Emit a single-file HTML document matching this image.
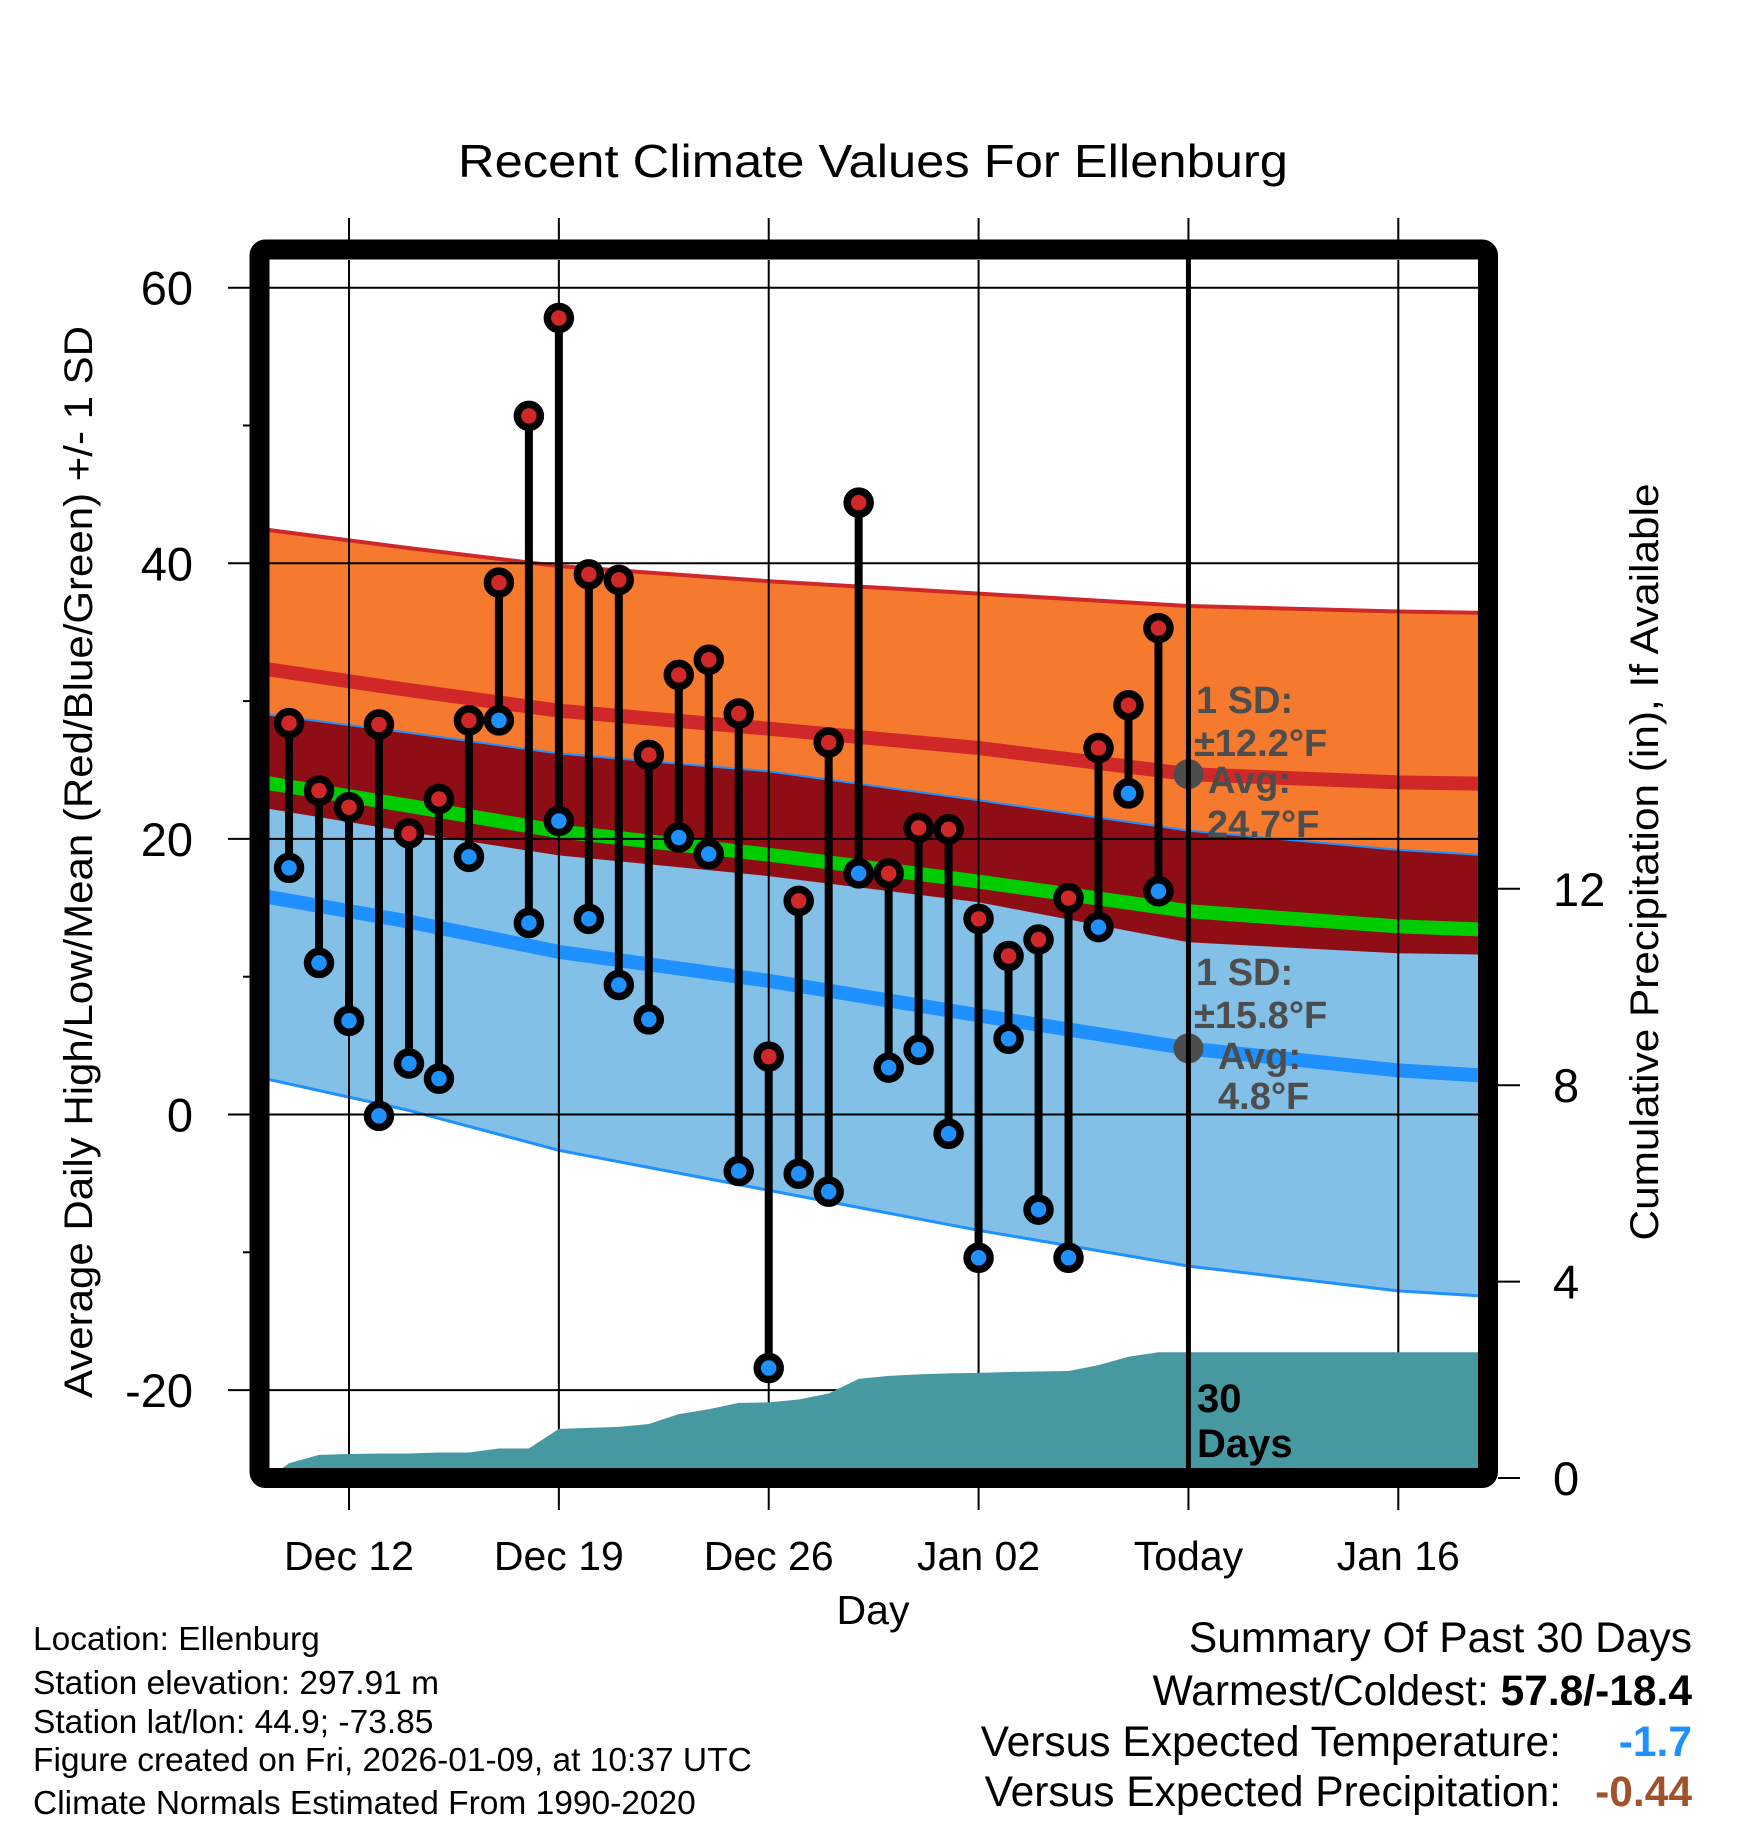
<!DOCTYPE html>
<html><head><meta charset="utf-8"><style>
html,body{margin:0;padding:0;background:#fff}
svg{display:block;font-family:"Liberation Sans",Arial,sans-serif}
</style></head><body>
<svg id="chart" width="1748" height="1828" viewBox="0 0 1748 1828" xmlns="http://www.w3.org/2000/svg">
<defs><clipPath id="plotclip"><rect x="269" y="260" width="1209" height="1208"/></clipPath></defs>
<g id="bands" clip-path="url(#plotclip)"></g>
<g id="grid" clip-path="url(#plotclip)"></g>
<g id="precip" clip-path="url(#plotclip)"></g>
<g id="annot"></g>
<g id="data"></g>
<g id="axes"></g>
<text x="873" y="177" font-size="46" text-anchor="middle" textLength="830" lengthAdjust="spacingAndGlyphs">Recent Climate Values For Ellenburg</text>
<text transform="translate(92,862) rotate(-90)" font-size="40" text-anchor="middle" textLength="1072" lengthAdjust="spacingAndGlyphs">Average Daily High/Low/Mean (Red/Blue/Green) +/- 1 SD</text>
<text transform="translate(1658,862) rotate(-90)" font-size="40" text-anchor="middle" textLength="757" lengthAdjust="spacingAndGlyphs">Cumulative Precipitation (in), If Available</text>
<text x="873" y="1624" font-size="41" text-anchor="middle">Day</text>
<g font-size="33.5">
<text x="33" y="1650">Location: Ellenburg</text>
<text x="33" y="1694">Station elevation: 297.91 m</text>
<text x="33" y="1733">Station lat/lon: 44.9; -73.85</text>
<text x="33" y="1771">Figure created on Fri, 2026-01-09, at 10:37 UTC</text>
<text x="33" y="1814">Climate Normals Estimated From 1990-2020</text>
</g>
<g font-size="42.5">
<text x="1692" y="1652" text-anchor="end">Summary Of Past 30 Days</text>
<text x="1692" y="1705" text-anchor="end">Warmest/Coldest: <tspan font-weight="bold">57.8/-18.4</tspan></text>
<text x="1561" y="1756" text-anchor="end">Versus Expected Temperature:</text>
<text x="1692" y="1756" text-anchor="end" font-weight="bold" fill="#1e90ff">-1.7</text>
<text x="1561" y="1806" text-anchor="end">Versus Expected Precipitation:</text>
<text x="1692" y="1806" text-anchor="end" font-weight="bold" fill="#a0522d">-0.44</text>
</g>
</svg>
<script>
// ---- data (day index: 0 = Dec 12) ----
const dataDays = [-2,-1,0,1,2,3,4,5,6,7,8,9,10,11,12,13,14,15,16,17,18,19,20,21,22,23,24,25,26,27];
const highs = [28.4,23.5,22.3,28.3,20.4,22.9,28.6,38.6,50.7,57.8,39.2,38.8,26.1,31.9,33.0,29.1,4.2,15.5,27.0,44.4,17.5,20.8,20.7,14.2,11.5,12.7,15.7,26.6,29.7,35.3];
const lows = [17.9,11.0,6.8,-0.1,3.7,2.6,18.7,28.6,13.9,21.3,14.2,9.4,6.9,20.1,18.9,-4.1,-18.4,-4.3,-5.6,17.5,3.4,4.7,-1.4,-10.4,5.5,-6.9,-10.4,13.6,23.3,16.2];
const precip = [0.3,0.47,0.49,0.5,0.5,0.52,0.52,0.6,0.6,1.0,1.02,1.04,1.1,1.3,1.4,1.53,1.54,1.6,1.72,2.02,2.08,2.11,2.13,2.14,2.16,2.17,2.18,2.3,2.47,2.56];
const normDays = [-3,2,7,14,21,28,35,38];
const highAvg = [32.4,30.8,29.3,28.0,26.6,24.7,24.1,24.0];
const highSD  = [10.1,10.3,10.5,10.7,11.2,12.2,12.4,12.4];
const lowAvg  = [15.9,14.0,11.8,9.7,7.2,4.8,3.2,2.8];
const lowSD   = [13.2,13.7,14.4,15.2,15.6,15.8,16.0,16.0];
const xTickDays = [0,7,14,21,28,35];
const xTickLabels = ["Dec 12","Dec 19","Dec 26","Jan 02","Today","Jan 16"];
const yTicks = [60,40,20,0,-20];
const yMinor = [50,30,10,-10];
const y2Ticks = [0,4,8,12];
const todayDay = 28;
const todayHighAvg = 24.7, todayHighSD = 12.2, todayLowAvg = 4.8, todayLowSD = 15.8;

// ---- scales ----
const X = d => 349 + d * 29.98;
const Y = v => 287.7 + (60 - v) * 13.78;
const YP = v => 1478 - v * 49.1;
const NS = "http://www.w3.org/2000/svg";
function mk(tag, attrs, parent){
  const e = document.createElementNS(NS, tag);
  for (const k in attrs) e.setAttribute(k, attrs[k]);
  parent.appendChild(e);
  return e;
}
const bands = document.getElementById('bands');
const grid = document.getElementById('grid');
const pg = document.getElementById('precip');
const dg = document.getElementById('data');
const ag = document.getElementById('axes');
const an = document.getElementById('annot');

function pts(fn){ return normDays.map((d,i)=>X(d).toFixed(1)+","+Y(fn(i)).toFixed(1)); }
const hiTop = pts(i=>highAvg[i]+highSD[i]);
const hiBot = pts(i=>highAvg[i]-highSD[i]);
const loTop = pts(i=>lowAvg[i]+lowSD[i]);
const loBot = pts(i=>lowAvg[i]-lowSD[i]);
let e;
e = mk('polygon',{points: hiTop.concat(hiBot.slice().reverse()).join(' '), fill:'#f57a2e'}, bands);
 
e = mk('polygon',{points: loTop.concat(loBot.slice().reverse()).join(' '), fill:'#82c0e7'}, bands);
 
e = mk('polygon',{points: loTop.concat(hiBot.slice().reverse()).join(' '), fill:'#8f0d14'}, bands);
 
e = mk('polyline',{points: hiTop.join(' '), fill:'none', stroke:'#d02828', 'stroke-width':4}, bands);
 
e = mk('polyline',{points: loTop.join(' '), fill:'none', stroke:'#1e90ff', 'stroke-width':2}, bands);
 
e = mk('polyline',{points: loBot.join(' '), fill:'none', stroke:'#1e90ff', 'stroke-width':3}, bands);
 
e = mk('polyline',{points: pts(i=>(highAvg[i]+lowAvg[i])/2).join(' '), fill:'none', stroke:'#00cc00', 'stroke-width':14}, bands);
 
e = mk('polyline',{points: pts(i=>highAvg[i]).join(' '), fill:'none', stroke:'#d02828', 'stroke-width':14}, bands);
 
e = mk('polyline',{points: pts(i=>lowAvg[i]).join(' '), fill:'none', stroke:'#1e90ff', 'stroke-width':14}, bands);
 

// gridlines
yTicks.forEach(v=>{
  const l = mk('line',{x1:260,x2:1488,y1:Y(v),y2:Y(v),stroke:'#000','stroke-width':2}, grid);
   
});
xTickDays.forEach(d=>{
  const l = mk('line',{x1:X(d),x2:X(d),y1:250,y2:1478,stroke:'#000','stroke-width':2}, grid);
   
});

const annTexts = [
 ["1 SD:",1196,713],["\u00b112.2\u00b0F",1194,756],["Avg:",1208,793],[todayHighAvg.toFixed(1)+"\u00b0F",1207,837],
 ["1 SD:",1196,985],["\u00b115.8\u00b0F",1194,1028],["Avg:",1218,1069],[todayLowAvg.toFixed(1)+"\u00b0F",1218,1109]
];
e = mk('circle',{cx:X(todayDay),cy:Y(todayHighAvg),r:15,fill:'#4d4d4d'}, an);
 
e = mk('circle',{cx:X(todayDay),cy:Y(todayLowAvg),r:15,fill:'#4d4d4d'}, an);
 
annTexts.forEach(t=>{
  const tx = mk('text',{x:t[1],y:t[2],'font-size':38,'font-weight':'bold',fill:'#4d4d4d'}, an);
  tx.textContent = t[0];
   
});

// precip
let pp = [X(-2.67)+","+YP(0)];
dataDays.forEach((d,i)=>pp.push(X(d)+","+YP(precip[i])));
pp.push(X(todayDay)+","+YP(precip[precip.length-1]));
pp.push("1480,"+YP(precip[precip.length-1]));
pp.push("1480,"+YP(0));
e = mk('polygon',{points:pp.join(' '),fill:'#4799a1'}, pg);
 

// today line
e = mk('line',{x1:X(todayDay),x2:X(todayDay),y1:250,y2:1478,stroke:'#000','stroke-width':5}, dg);
 
e = mk('text',{x:1197,y:1412,'font-size':40,'font-weight':'bold'}, dg); e.textContent='30';
 
e = mk('text',{x:1197,y:1457,'font-size':40,'font-weight':'bold'}, dg); e.textContent='Days';
 

// data stems and points
dataDays.forEach((d,i)=>{
  const s = mk('line',{x1:X(d),x2:X(d),y1:Y(highs[i]),y2:Y(lows[i]),stroke:'#000','stroke-width':8}, dg);
   
});
dataDays.forEach((d,i)=>{
  const h = mk('circle',{cx:X(d),cy:Y(highs[i]),r:11.5,fill:'#d02828',stroke:'#000','stroke-width':7.5}, dg);
   
  const l = mk('circle',{cx:X(d),cy:Y(lows[i]),r:11.5,fill:'#1e90ff',stroke:'#000','stroke-width':7.5}, dg);
   
});

// frame
e = mk('rect',{x:259.5,y:249.5,width:1228.5,height:1228.5,rx:6,fill:'none',stroke:'#000','stroke-width':20}, ag);
 
yTicks.forEach(v=>{
  const l = mk('line',{x1:228,x2:250,y1:Y(v),y2:Y(v),stroke:'#000','stroke-width':2}, ag);
   
  const t = mk('text',{x:193,y:Y(v)+17,'font-size':47,'text-anchor':'end'}, ag);
  t.textContent = String(v);
   
});
yMinor.forEach(v=>{
  const l = mk('line',{x1:243,x2:250,y1:Y(v),y2:Y(v),stroke:'#000','stroke-width':2}, ag);
   
});
y2Ticks.forEach(v=>{
  const l = mk('line',{x1:1498,x2:1520,y1:YP(v),y2:YP(v),stroke:'#000','stroke-width':2}, ag);
   
  const t = mk('text',{x:1553,y:YP(v)+17,'font-size':47}, ag);
  t.textContent = String(v);
   
});
xTickDays.forEach((d,i)=>{
  const l1 = mk('line',{x1:X(d),x2:X(d),y1:218,y2:240,stroke:'#000','stroke-width':2}, ag);
   
  const l2 = mk('line',{x1:X(d),x2:X(d),y1:1488,y2:1510,stroke:'#000','stroke-width':2}, ag);
   
  const t = mk('text',{x:X(d),y:1570,'font-size':41,'text-anchor':'middle'}, ag);
  t.textContent = xTickLabels[i];
   
});
</script>
</body></html>
